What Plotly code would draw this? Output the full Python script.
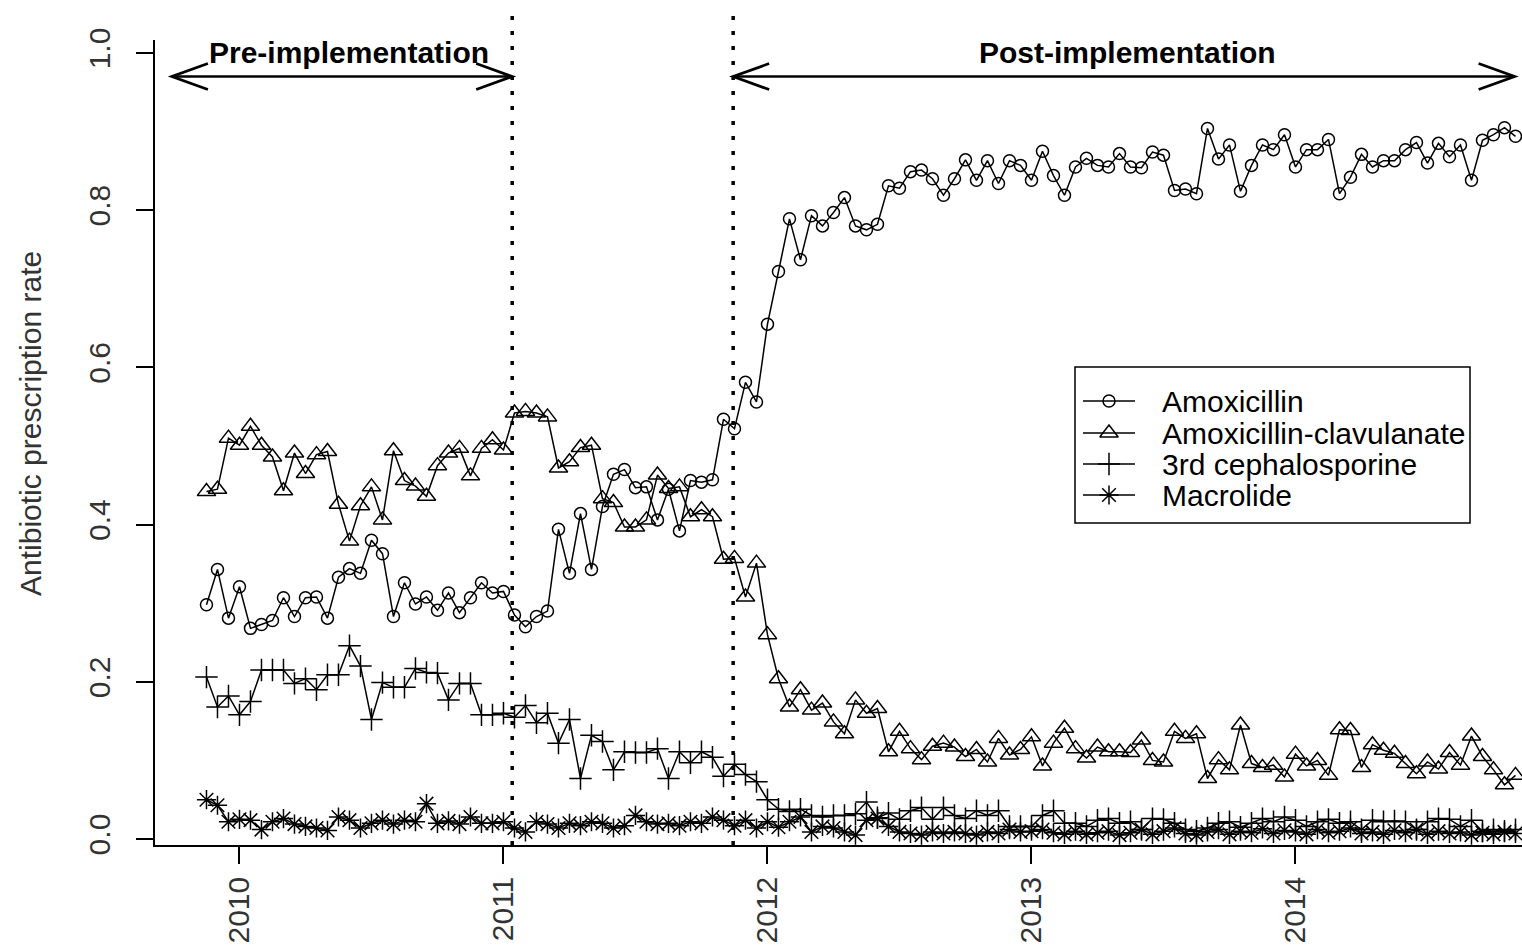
import plotly.graph_objects as go

# ---------------- data (semi-monthly rates) ----------------
first_year, first_half_month = 2009, 21          # first observation: second half of Nov 2009
n_obs = 120
periods = [first_year + (first_half_month + k) / 24 for k in range(n_obs)]

amoxicillin = [
    .298, .343, .281, .321, .268, .273, .278, .307, .283, .307, .308, .281, .333, .344, .338,
    .380, .363, .283, .326, .299, .308, .291, .313, .288, .307, .326, .313, .315, .285, .270,
    .283, .290, .394, .338, .414, .343, .423, .464, .470, .447, .448, .406, .445, .392, .456,
    .454, .457, .534, .522, .581, .556, .655,
    .722, .789, .737, .793, .780, .797, .816, .780, .775, .782, .831, .828, .849, .851, .840,
    .819, .840, .864, .838, .863, .834, .863, .857, .838, .875, .844, .819, .855, .866, .857,
    .855, .872,
    .855, .854, .874, .870, .825, .827, .821, .904, .865, .883, .824, .857, .883, .877, .896,
    .855, .877, .877, .890, .821, .842, .871, .855, .863, .863, .877, .886, .860, .885, .868,
    .883, .838, .889, .896, .905, .894]

amox_clav = [
    .442, .445, .510, .501, .525, .501, .486, .443, .491, .465, .489, .493, .426, .379, .424,
    .448, .406, .494, .456, .449, .436, .475, .491, .497, .462, .497, .508, .495, .542, .544,
    .542, .537, .472, .480, .498, .501, .433, .428, .397, .397, .406, .463, .446, .448, .410,
    .419, .410, .356, .357, .308, .351, .260,
    .204, .168, .190, .164, .173, .149, .134, .177, .160, .166, .111, .137, .115, .101, .118,
    .122, .117, .105, .114, .098, .128, .107, .114, .130, .093, .122, .141, .115, .103, .117,
    .111, .111,
    .110, .126, .100, .098, .137, .128, .134, .077, .101, .088, .145, .096, .091, .094, .079,
    .108, .093, .100, .081, .139, .138, .091, .120, .113, .109, .096, .083, .098, .089, .110,
    .094, .131, .105, .088, .069, .081]

cephalosporine3 = [
    .206, .168, .182, .158, .175, .215, .215, .215, .198, .204, .190, .209, .209, .246, .220,
    .152, .199, .193, .193, .217, .212, .211, .177, .198, .198, .158, .158, .160, .155, .170,
    .148, .160, .122, .152, .077, .132, .124, .088, .111, .110, .110, .115, .077, .111, .097,
    .111, .104, .080, .095, .082, .073, .050,
    .038, .035, .038, .030, .028, .030, .030, .032, .047, .027, .033, .025, .036, .040, .025,
    .040, .030, .026, .036, .030, .036, .016, .016, .016, .030, .036, .020, .020, .016, .024,
    .026, .020,
    .022, .012, .026, .025, .020, .012, .010, .014, .020, .022, .015, .020, .026, .022, .028,
    .024, .016, .022, .025, .020, .022, .012, .024, .022, .023, .022, .012, .022, .026, .025,
    .016, .024, .010, .012, .010, .012]

macrolide = [
    .050, .043, .022, .025, .024, .012, .022, .026, .019, .016, .014, .011, .028, .024, .014,
    .020, .024, .019, .024, .022, .045, .020, .023, .019, .028, .020, .020, .022, .014, .009,
    .022, .019, .014, .020, .017, .022, .020, .014, .017, .030, .022, .019, .020, .017, .022,
    .020, .028, .024, .017, .024, .014, .022,
    .015, .022, .028, .009, .016, .014, .009, .005, .024, .026, .016, .009, .007, .005, .009,
    .007, .009, .007, .005, .009, .007, .012, .009, .010, .012, .008, .006, .010, .006, .008,
    .010, .005,
    .008, .012, .006, .010, .014, .007, .005, .009, .012, .006, .010, .008, .013, .007, .011,
    .009, .006, .012, .008, .010, .014, .007, .009, .006, .011, .008, .012, .006, .010, .007,
    .009, .005, .008, .006, .009, .007]

series_names = ["Amoxicillin", "Amoxicillin-clavulanate", "3rd cephalosporine", "Macrolide"]
series_values = [amoxicillin, amox_clav, cephalosporine3, macrolide]

phase_breaks = [2011.033, 2011.870]          # dotted vertical lines
phase_labels = ["Pre-implementation", "Post-implementation"]
x_ticks = [2010, 2011, 2012, 2013, 2014]
y_ticks = [0.0, 0.2, 0.4, 0.6, 0.8, 1.0]

# ---------------- styling / layout ----------------
W, H = 1522, 952
ML, MR, MT, MB = 155, 0, 40, 107
PW, PH = W - ML - MR, H - MT - MB
X_RANGE = [2009.680, 2014.858]
Y_RANGE = [-0.0076, 1.0165]
FONT = "Liberation Sans, Arial, sans-serif"
FS = 30

px_per_x = PW / (X_RANGE[1] - X_RANGE[0])
px_per_y = PH / (Y_RANGE[1] - Y_RANGE[0])

symbols = ["circle-open", "triangle-up-open", "cross-thin-open", "asterisk-open"]
sizes = [12, 16, 16, 16]

fig = go.Figure()
for name, vals, sym, sz in zip(series_names, series_values, symbols, sizes):
    fig.add_trace(go.Scatter(
        x=periods, y=vals, name=name, mode="lines+markers",
        line=dict(color="black", width=1.5),
        marker=dict(symbol=sym, size=sz, color="black", line=dict(color="black", width=1.5)),
        showlegend=False,
    ))

shapes = []
for xb in phase_breaks:
    shapes.append(dict(type="line", xref="x", yref="paper", x0=xb, x1=xb, y0=0,
                       y1=(H - MB - 15) / PH,
                       line=dict(color="black", width=3.5, dash="4px,11px")))

# double-headed arrows
arrow_y = 0.970
head_dx = 36 / px_per_x
head_dy = 13 / px_per_y
arrow_spans = [(2009.744, phase_breaks[0]), (phase_breaks[1], 2014.830)]
for a, b in arrow_spans:
    shapes.append(dict(type="line", xref="x", yref="y", x0=a, x1=b, y0=arrow_y, y1=arrow_y,
                       line=dict(color="black", width=2.5)))
    for tip, sgn in ((a, 1), (b, -1)):
        path = (f"M {tip + sgn*head_dx},{arrow_y + head_dy} L {tip},{arrow_y} "
                f"L {tip + sgn*head_dx},{arrow_y - head_dy}")
        shapes.append(dict(type="path", xref="x", yref="y", path=path,
                           line=dict(color="black", width=2.8)))

annotations = []
label_centres = [2010.415, 2013.362]
for lab, xc in zip(phase_labels, label_centres):
    annotations.append(dict(x=xc, y=1.0, xref="x", yref="y", text=f"<b>{lab}</b>",
                            showarrow=False, font=dict(family=FONT, size=FS, color="black"),
                            xanchor="center", yanchor="middle"))
annotations.append(dict(x=-(ML - 30) / PW, y=(H - MB - 424) / PH,
                        xref="paper", yref="paper", text="Antibiotic prescription rate",
                        textangle=-90, showarrow=False,
                        font=dict(family=FONT, size=FS, color="#333"),
                        xanchor="center", yanchor="middle"))

# ---- legend (R-style key box) ----
LEG_BOX = (1075, 367, 1470, 523)          # left, top, right, bottom in pixels
LEG_ROWS = [401, 433, 464, 495]
LEG_LINE = (1083, 1135)
LEG_TEXT_X = 1160


def px2paper_x(px):
    return (px - ML) / PW


def px2paper_y(py):
    return (H - MB - py) / PH


shapes.append(dict(type="rect", xref="paper", yref="paper", layer="below",
                   x0=px2paper_x(LEG_BOX[0]), x1=px2paper_x(LEG_BOX[2]),
                   y0=px2paper_y(LEG_BOX[3]), y1=px2paper_y(LEG_BOX[1]),
                   line=dict(color="black", width=1.5), fillcolor="white"))
for name, sym, sz, ry in zip(series_names, symbols, sizes, LEG_ROWS):
    shapes.append(dict(type="line", xref="paper", yref="paper",
                       x0=px2paper_x(LEG_LINE[0]), x1=px2paper_x(LEG_LINE[1]),
                       y0=px2paper_y(ry), y1=px2paper_y(ry),
                       line=dict(color="black", width=1.5)))
    annotations.append(dict(x=px2paper_x(LEG_TEXT_X), y=px2paper_y(ry), xref="paper", yref="paper",
                            text=name, showarrow=False, xanchor="left", yanchor="middle",
                            font=dict(family=FONT, size=FS, color="black")))
    fig.add_trace(go.Scatter(
        x=[(LEG_LINE[0] + LEG_LINE[1]) / 2 - ML], y=[H - MB - ry], xaxis="x2", yaxis="y2",
        mode="markers", showlegend=False, hoverinfo="skip", name=name + " (key)",
        marker=dict(symbol=sym, size=sz, color="black", line=dict(color="black", width=1.5)),
    ))

axis_common = dict(tickmode="array", tickangle=-90,
                   ticks="outside", ticklen=17, tickwidth=1.5, tickcolor="black",
                   showline=True, linecolor="black", linewidth=1.5, mirror=False,
                   showgrid=False, zeroline=False,
                   tickfont=dict(family=FONT, size=FS, color="#333"))

fig.update_layout(
    width=W, height=H,
    margin=dict(l=ML, r=MR, t=MT, b=MB, pad=0),
    paper_bgcolor="white", plot_bgcolor="white",
    font=dict(family=FONT, size=FS, color="black"),
    shapes=shapes, annotations=annotations,
    showlegend=False,
    xaxis=dict(range=X_RANGE, tickvals=x_ticks, ticktext=[str(t) for t in x_ticks],
               ticklabelstandoff=1, **axis_common),
    yaxis=dict(range=Y_RANGE, tickvals=y_ticks, ticktext=[f"{t:.1f}" for t in y_ticks],
               ticklabelstandoff=14, **axis_common),
    xaxis2=dict(overlaying="x", anchor="y2", range=[0, PW], visible=False, fixedrange=True),
    yaxis2=dict(overlaying="y", anchor="x2", range=[0, PH], visible=False, fixedrange=True),
)

fig.write_html("out.html")
